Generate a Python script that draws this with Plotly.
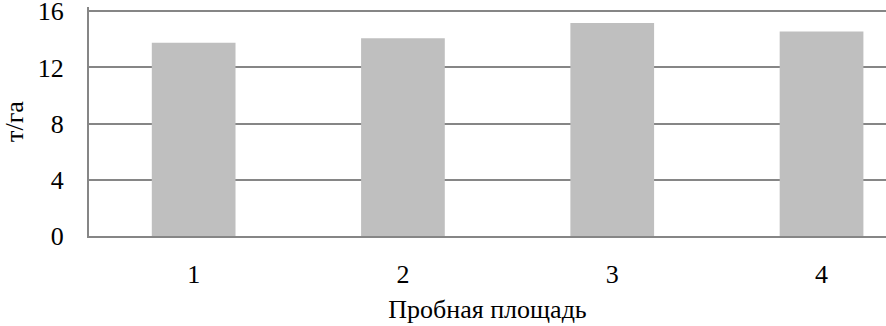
import plotly.graph_objects as go

categories = ["1", "2", "3", "4"]
values = [13.75, 14.08, 15.17, 14.56]
y_ticks = [0, 4, 8, 12, 16]

FONT = "Times New Roman, Liberation Serif, serif"

fig = go.Figure()
fig.add_trace(go.Bar(
    x=categories, y=values,
    marker=dict(color="#bfbfbf", line=dict(width=0)),
    width=0.4,
))

fig.update_layout(
    width=886, height=326,
    margin=dict(l=89, r=0, t=7, b=90),
    paper_bgcolor="white", plot_bgcolor="white",
    showlegend=False,
    font=dict(family=FONT, size=26, color="black"),
)
fig.update_xaxes(
    type="category",
    range=[-0.5, 3.308],
    automargin=False,
    showgrid=False,
    showline=True, linecolor="#868686", linewidth=2,
    ticks="", ticklabelstandoff=14,
    tickfont=dict(family=FONT, size=26, color="black"),
    title=dict(text="Пробная площадь", font=dict(family=FONT, size=26, color="black"), standoff=12),
)
fig.update_yaxes(
    range=[0, 16.3],
    tickvals=y_ticks,
    automargin=False,
    ticklabeloverflow="allow",
    showgrid=True, gridcolor="#868686", gridwidth=2,
    showline=True, linecolor="#868686", linewidth=2,
    zeroline=False,
    ticks="", ticklabelstandoff=18,
    tickfont=dict(family=FONT, size=26, color="black"),
    title=dict(text="т/га", font=dict(family=FONT, size=26, color="black"), standoff=12),
)

fig.write_html("out.html", config={"displayModeBar": False},
               post_script="document.body.style.margin='0px';")
